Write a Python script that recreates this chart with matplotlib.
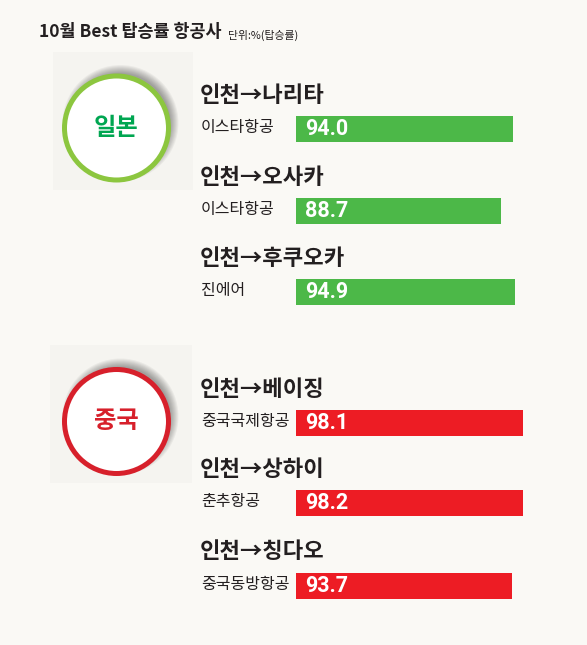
import matplotlib
matplotlib.use('Agg')
import matplotlib.pyplot as plt
from matplotlib.patches import Circle, Rectangle

plt.rcParams['font.family'] = ['Noto Sans CJK KR', 'DejaVu Sans']

# 데이터
regions = ['일본', '중국']
routes = ['인천→나리타', '인천→오사카', '인천→후쿠오카',
          '인천→베이징', '인천→상하이', '인천→칭다오']
airlines = ['이스타항공', '이스타항공', '진에어',
            '중국국제항공', '춘추항공', '중국동방항공']
rates = [94.0, 88.7, 94.9, 98.1, 98.2, 93.7]
region_of = [0, 0, 0, 1, 1, 1]

title = '10월 Best 탑승률 항공사'
unit = '단위:%(탑승률)'

bar_colors = ['#4cb848', '#ed1c24']
ring_colors = ['#8cc63f', '#d7202b']
text_colors = ['#00a651', '#d7202b']

W, H = 587, 645
fig = plt.figure(figsize=(W / 100, H / 100), dpi=100)
fig.patch.set_facecolor('#faf9f5')

ax = fig.add_axes([0, 0, 1, 1])
ax.set_xlim(0, W)
ax.set_ylim(H, 0)
ax.axis('off')

# 제목
ax.text(39, 32, title, fontsize=12.5, color='#231f20', va='center', weight='bold')
ax.text(228, 35, unit, fontsize=7.8, color='#231f20', va='center')

# 지역 원
panel_boxes = [(53, 52, 140, 138), (50, 345, 142, 138)]
circle_y = [128, 421.5]
for i, reg in enumerate(regions):
    px, py, pw, ph = panel_boxes[i]
    ax.add_patch(Rectangle((px, py), pw, ph, facecolor='#f5f4f0', edgecolor='none'))
    cx, cy = 116.5, circle_y[i]
    # 그림자
    for k in range(9):
        ax.add_patch(Circle((cx + 4, cy - 5), 50 + k * 1.0, facecolor='#000000',
                            edgecolor='none', alpha=0.045))
    ax.add_patch(Circle((cx, cy), 52, facecolor='white', edgecolor=ring_colors[i],
                        linewidth=3.6))
    ax.text(cx, cy, reg, fontsize=17.5, color=text_colors[i], ha='center', va='center',
            weight='bold')

# 노선 / 항공사
route_y = [95, 177, 258.5, 389, 470, 552]
bar_y = [129, 211, 292, 423, 503, 586]
for i in range(len(routes)):
    ax.text(200, route_y[i], routes[i], fontsize=16, color='#231f20', va='center',
            weight='bold')
    ax.text(201, bar_y[i] - 1.5, airlines[i], fontsize=11.5, color='#231f20', va='center')

# 막대
bx = fig.add_axes([296 / W, 0, 231 / W, 1])
bx.set_xlim(0, 100)
bx.set_ylim(H, 0)
bx.axis('off')
bx.patch.set_alpha(0)
bx.barh(bar_y, rates, height=26, color=[bar_colors[r] for r in region_of])
for y, v in zip(bar_y, rates):
    bx.text(3.9, y, f'{v:.1f}', fontsize=15.5, color='white', weight='bold',
            va='center', family=['Roboto', 'DejaVu Sans'])

fig.savefig('out.png', dpi=100, facecolor=fig.get_facecolor())
